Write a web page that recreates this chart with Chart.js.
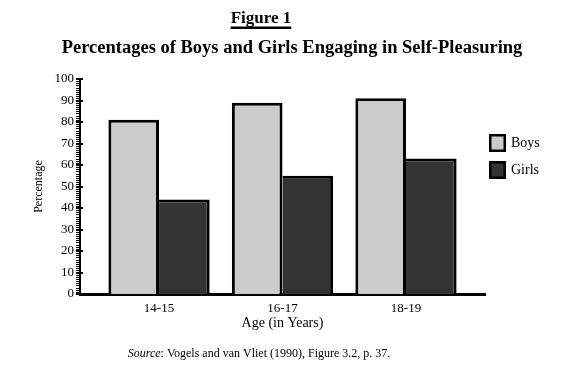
<!DOCTYPE html>
<html>
<head>
<meta charset="utf-8">
<script src="https://cdn.jsdelivr.net/npm/chart.js@4"></script>
<style>
  html, body { margin: 0; padding: 0; background: #fff; }
  #wrap { width: 573px; height: 370px; }
</style>
</head>
<body>
<div id="wrap"><canvas id="c" width="573" height="370"></canvas></div>
<script>
const categories = ['14-15', '16-17', '18-19'];
const seriesNames = ['Boys', 'Girls'];
const boys = [81, 89, 91];
const girls = [44, 55, 63];
const yTicks = [0, 10, 20, 30, 40, 50, 60, 70, 80, 90, 100];

const FONT = '"Liberation Serif", "Times New Roman", serif';
const boysFill = '#cbcbcb';
const girlsFill = '#333333';

const textPlugin = {
  id: 'texts',
  afterDraw(chart) {
    const ctx = chart.ctx;
    ctx.save();
    ctx.fillStyle = '#000';
    ctx.textBaseline = 'alphabetic';
    ctx.textAlign = 'center';
    // Figure 1 (underlined)
    ctx.font = 'bold 17px ' + FONT;
    const t1 = 'Figure 1';
    const w1 = ctx.measureText(t1).width;
    ctx.fillText(t1, 261, 23);
    ctx.fillRect(261 - w1 / 2, 26.5, w1, 2.5);
    // subtitle
    ctx.font = 'bold 18.5px ' + FONT;
    ctx.fillText('Percentages of Boys and Girls Engaging in Self-Pleasuring', 292, 53);
    // source
    const s1 = 'Source';
    const s2 = ': Vogels and van Vliet (1990), Figure 3.2, p. 37.';
    ctx.font = 'italic 12px ' + FONT;
    const ws1 = ctx.measureText(s1).width;
    ctx.font = '12px ' + FONT;
    const ws2 = ctx.measureText(s2).width;
    const sx = 259 - (ws1 + ws2) / 2;
    ctx.textAlign = 'left';
    ctx.font = 'italic 12px ' + FONT;
    ctx.fillText(s1, sx, 357);
    ctx.font = '12px ' + FONT;
    ctx.fillText(s2, sx + ws1, 357);

    // legend
    const items = chart.data.datasets;
    const lx = 489, ly = [134, 161];
    items.forEach((ds, i) => {
      ctx.fillStyle = '#000';
      ctx.fillRect(lx, ly[i], 17, 18);
      ctx.fillStyle = ds.backgroundColor;
      ctx.fillRect(lx + 2.5, ly[i] + 2.5, 12, 13);
      ctx.fillStyle = '#000';
      ctx.font = '14px ' + FONT;
      ctx.textBaseline = 'middle';
      ctx.fillText(ds.label, 511, ly[i] + 9.5);
    });

    // y-axis tick marks (major and minor)
    const ys = chart.scales.y;
    const axisX = chart.chartArea.left;
    ctx.fillStyle = '#000';
    for (let v = ys.min; v <= ys.max; v++) {
      const py = Math.round(ys.getPixelForValue(v));
      if (v % 10 === 0) {
        ctx.fillRect(axisX - 4, py - 1, 7, 2);
      } else {
        ctx.fillRect(axisX - 4, py, 3, 1);
      }
    }
    ctx.restore();
  }
};

const chart = new Chart(document.getElementById('c'), {
  type: 'bar',
  data: {
    datasets: [
      {
        label: seriesNames[0],
        data: categories.map((c, i) => ({ x: i, y: boys[i] })),
        backgroundColor: boysFill,
        borderColor: '#000',
        borderWidth: { top: 3, left: 3, right: 3, bottom: 0 },
        borderSkipped: false
      },
      {
        label: seriesNames[1],
        data: categories.map((c, i) => ({ x: i, y: girls[i] })),
        backgroundColor: girlsFill,
        borderColor: '#000',
        borderWidth: { top: 3, left: 0, right: 3, bottom: 0 },
        borderSkipped: false
      }
    ]
  },
  options: {
    responsive: false,
    animation: false,
    devicePixelRatio: 1,
    categoryPercentage: 0.82,
    barPercentage: 1.0,
    layout: { padding: { top: 79, right: 88, bottom: 0, left: 0 } },
    plugins: {
      legend: { display: false },
      title: { display: false },
      tooltip: { enabled: false }
    },
    scales: {
      x: {
        type: 'linear',
        offset: false,
        min: -0.64,
        max: 2.64,
        afterFit(scale) { scale.height = 76; },
        afterBuildTicks(scale) { scale.ticks = categories.map((c, i) => ({ value: i })); },
        grid: { display: false, drawTicks: false },
        border: { display: true, color: '#000', width: 3 },
        ticks: {
          color: '#000',
          font: { family: FONT, size: 13 },
          padding: 7,
          maxRotation: 0,
          autoSkip: false,
          callback: (v) => categories[v]
        },
        title: {
          display: true,
          text: 'Age (in Years)',
          color: '#000',
          font: { family: FONT, size: 14 },
          padding: { top: 0, bottom: 38 }
        }
      },
      y: {
        min: 0,
        max: 100,
        afterFit(scale) { scale.width = 80; },
        afterBuildTicks(scale) { scale.ticks = yTicks.map(v => ({ value: v })); },
        grid: { display: false, drawTicks: false },
        border: { display: true, color: '#000', width: 2 },
        ticks: {
          color: '#000',
          font: { family: FONT, size: 13 },
          padding: 6
        },
        title: {
          display: true,
          text: 'Percentage',
          color: '#000',
          font: { family: FONT, size: 12 },
          padding: { top: 32, bottom: 0 }
        }
      }
    }
  },
  plugins: [textPlugin]
});
</script>
</body>
</html>
